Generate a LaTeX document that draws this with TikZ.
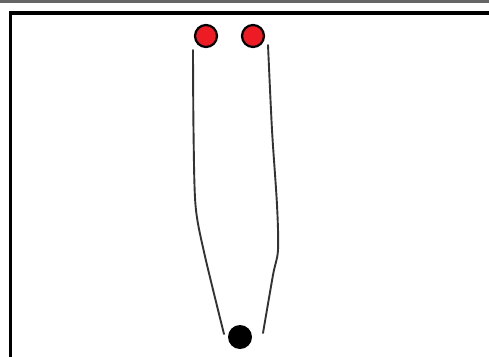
\documentclass[tikz,border=0pt]{standalone}
\usepackage{tikz}
\definecolor{paintred}{RGB}{237,28,36}
\tikzset{
  redball/.style={circle, draw=black, line width=2.2pt, fill=paintred, minimum size=22pt, inner sep=0pt},
  blackball/.style={circle, fill=black, minimum size=24pt, inner sep=0pt},
  strand/.style={line width=1.9pt, draw=black!80, line cap=round},
  frameline/.style={line width=3.2pt, draw=black}
}

\begin{document}
\begin{tikzpicture}[x=1pt, y=-1pt]
  \useasboundingbox (0,0) rectangle (489,356);
  % top edge and frame
  \draw[line width=2.6pt, draw=black!60] (0,1.3) -- (489,1.3);
  \draw[frameline] (490,13) -- (10.5,13) -- (10.5,360);
  % balls
  \node[redball] (redL) at (206,36) {};
  \node[redball] (redR) at (253,36) {};
  \node[blackball] (base) at (240,337) {};
  % strand ends
  \coordinate (lTop) at (193,50);
  \coordinate (lBot) at (224,334);
  \coordinate (rTop) at (268,45);
  \coordinate (rBot) at (263,333);
  \draw[strand] plot[smooth, tension=0.5] coordinates {(lTop) (193.5,130) (195.5,205) (204,252) (lBot)};
  \draw[strand] plot[smooth, tension=0.5] coordinates {(rTop) (272,130) (277,205) (278,250) (273,275) (rBot)};
\end{tikzpicture}
\end{document}
